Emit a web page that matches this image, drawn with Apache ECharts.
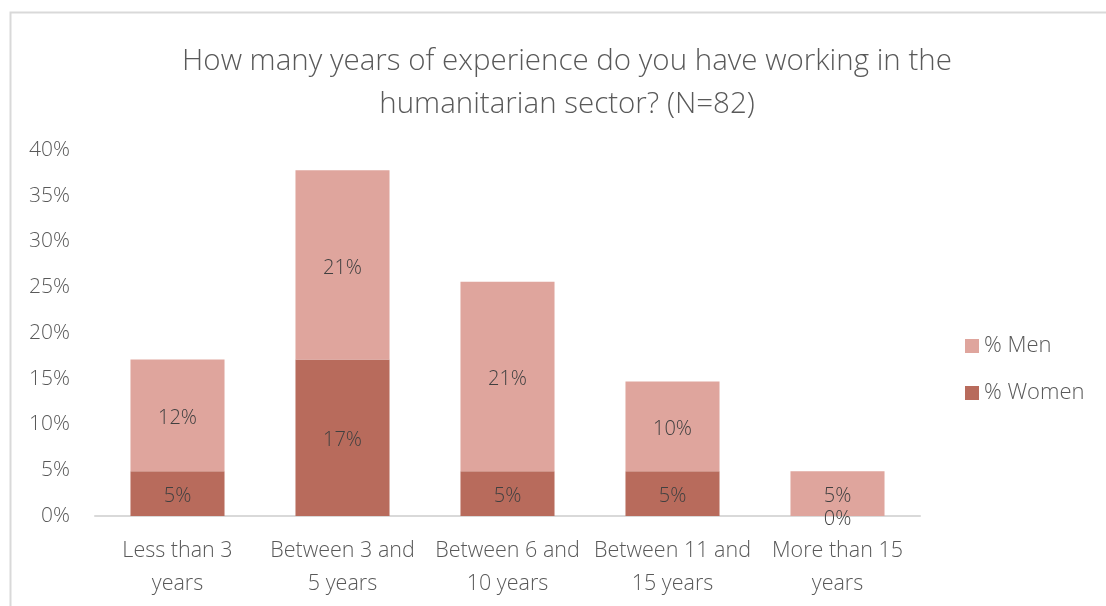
<!DOCTYPE html>
<html>
<head>
<meta charset="utf-8">
<script src="https://cdn.jsdelivr.net/npm/echarts@6/dist/echarts.min.js"></script>
<style>html,body{margin:0;padding:0;background:#fff;}#c{width:1106px;height:606px;}</style>
</head>
<body>
<div id="c"></div>
<script>
const categories = ['Less than 3\nyears', 'Between 3 and\n5 years', 'Between 6 and\n10 years', 'Between 11 and\n15 years', 'More than 15\nyears'];
const women = [4.9, 17.1, 4.9, 4.9, 0];
const men = [12.2, 20.7, 20.7, 9.8, 4.9];
const seriesNames = ['% Women', '% Men'];

const FONT = "'Open Sans', 'Noto Sans', sans-serif";
const chart = echarts.init(document.getElementById('c'));
const lbl = {
  show: true, position: 'inside', color: '#404040', fontSize: 20, fontFamily: FONT, fontWeight: 300,
  offset: [0, 3],
  formatter: p => Math.round(p.value) + '%'
};
chart.setOption({
  animation: false,
  textStyle: { fontFamily: FONT },
  title: {
    text: 'How many years of experience do you have working in the\nhumanitarian sector? (N=82)',
    left: 562, top: 35, textAlign: 'center',
    textStyle: { fontSize: 29.5, fontWeight: 300, color: '#595959', lineHeight: 43, fontFamily: FONT }
  },
  graphic: [{
    type: 'rect', silent: true,
    shape: { x: 10.5, y: 12.5, width: 1200, height: 700 },
    style: { fill: 'none', stroke: '#d9d9d9', lineWidth: 2 }
  }],
  legend: {
    orient: 'vertical', left: 960, top: 330, itemGap: 25,
    itemWidth: 14, itemHeight: 14, icon: 'rect',
    data: ['% Men', '% Women'],
    textStyle: { fontSize: 22, color: '#595959', fontWeight: 300, fontFamily: FONT }
  },
  grid: { left: 95, right: 186, top: 150, bottom: 90 },
  xAxis: {
    type: 'category', data: categories,
    axisLine: { lineStyle: { color: '#d9d9d9', width: 2 } },
    axisTick: { show: false },
    axisLabel: { fontSize: 21.5, color: '#595959', fontWeight: 300, lineHeight: 33, margin: 18, interval: 0, fontFamily: FONT }
  },
  yAxis: {
    type: 'value', min: 0, max: 40, interval: 5,
    splitLine: { show: false },
    axisLine: { show: false }, axisTick: { show: false },
    axisLabel: { formatter: v => v + '%', fontSize: 21, color: '#595959', fontWeight: 300, margin: 25, fontFamily: FONT }
  },
  series: [
    { name: seriesNames[0], type: 'bar', stack: 's', data: women, barWidth: '57%',
      itemStyle: { color: '#B86B5C' }, label: lbl },
    { name: seriesNames[1], type: 'bar', stack: 's', data: men, barWidth: '57%',
      itemStyle: { color: '#DFA59D' }, label: lbl }
  ]
});
</script>
</body>
</html>
